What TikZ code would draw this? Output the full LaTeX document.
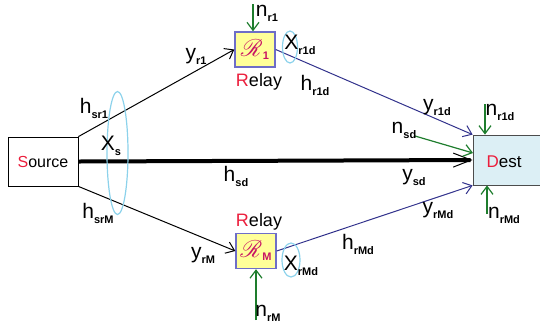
\documentclass[tikz,border=0pt]{standalone}
\usepackage{fontspec}
\setmainfont{Liberation Sans}
\usepackage{mathrsfs}
\usetikzlibrary{calc,arrows.meta}
\definecolor{relayfill}{RGB}{255,255,153}
\definecolor{relayedge}{RGB}{110,110,200}
\definecolor{destfill}{RGB}{220,239,245}
\definecolor{navy}{RGB}{50,50,140}
\definecolor{noisegreen}{RGB}{30,125,45}
\definecolor{grpblue}{RGB}{140,210,235}
\definecolor{hotred}{RGB}{235,30,60}
\definecolor{relayred}{RGB}{200,20,100}
\newcommand{\lb}[2]{#1\raisebox{-2.5pt}{\bfseries\fontsize{5.5}{6}\selectfont #2}}
\newcommand{\rly}[1]{{\color{relayred}\fontsize{12.5}{13}\selectfont$\mathscr{R}$\raisebox{-1.5pt}{\bfseries\fontsize{5.5}{6}\selectfont #1}}}

\begin{document}
\begin{tikzpicture}[x=0.5pt,y=-0.5pt,>={Straight Barb[length=4pt,width=6pt]},
box/.style={draw,rectangle,inner sep=0pt,font=\fontsize{8}{9}\selectfont},
relay/.style={box,draw=relayedge,fill=relayfill,minimum width=20pt,minimum height=17.5pt,line width=0.7pt},
lbl/.style={inner sep=0pt,font=\fontsize{10.5}{12}\selectfont},
noise/.style={->,draw=noisegreen,line width=0.6pt},
link/.style={->,line width=0.5pt},
rdlink/.style={link,draw=navy},
grp/.style={draw=grpblue,line width=0.6pt}
]
\useasboundingbox (0,0) rectangle (540,323);

% boxes
\node[box,minimum width=35pt,minimum height=24.5pt] (src) at (43,161.5) {{\color{hotred}S}ource};
\node[box,draw=black!70,fill=destfill,minimum width=36pt,minimum height=25pt] (dst) at (509,160) {};
\node[inner sep=0pt,font=\fontsize{8.5}{9}\selectfont] (dtxt) at (504,162) {{\color{hotred}D}est};
\node[relay] (r1) at (255,49.5) {\rly{1}};
\node[relay] (rm) at (256,251) {\rly{M}};
\node[inner sep=0pt,font=\fontsize{9}{10}\selectfont] (rl1) at (259,82) {{\color{hotred}R}elay};
\node[inner sep=0pt,font=\fontsize{9}{10}\selectfont] (rlm) at (259,222) {{\color{hotred}R}elay};

% links
\draw[line width=2pt,-{Straight Barb[length=9pt,width=7pt,line width=0.5pt]}] (src.east) -- (dst.west);
\draw[link] (src.north east) -- (r1.west);
\draw[link] (src.south east) -- (rm.west);
\draw[rdlink] (r1.east) -- (dst.north west);
\draw[rdlink] (rm.east) -- (dst.south west);

% noise
\coordinate (nr1s) at (253,4);
\coordinate (nrms) at (256,320);
\coordinate (nr1ds) at (485,104);
\coordinate (nrmds) at (487,214);
\coordinate (nsds) at (415,136);
\coordinate (nsde) at (473,153);
\draw[noise] (nr1s) -- (nr1s |- r1.north);
\draw[noise] (nrms) -- (nrms |- rm.south);
\draw[noise] (nr1ds) -- (nr1ds |- dst.north);
\draw[noise] (nrmds) -- (nrmds |- dst.south);
\draw[noise] (nsds) -- (nsde);

% groups
\draw[grp] (117.5,153) ellipse [x radius=5.25pt,y radius=30.75pt];
\draw[grp] (290,47) ellipse [x radius=3.75pt,y radius=8pt];
\draw[grp] (291,260) ellipse [x radius=4.5pt,y radius=8.5pt];

% labels
\node[lbl] (hsr1) at (94,108) {\lb{h}{sr1}};
\node[lbl] (xs) at (111,146) {\lb{X}{s}};
\node[lbl] (hsrm) at (98,213) {\lb{h}{srM}};
\node[lbl] (yr1) at (196,56) {\lb{y}{r1}};
\node[lbl] (yrm) at (203,255) {\lb{y}{rM}};
\node[lbl] (hsd) at (236,176) {\lb{h}{sd}};
\node[lbl] (ysd) at (414,177) {\lb{y}{sd}};
\node[lbl] (xr1d) at (300,45) {\lb{X}{r1d}};
\node[lbl] (hr1d) at (315,85) {\lb{h}{r1d}};
\node[lbl] (yr1d) at (437,107) {\lb{y}{r1d}};
\node[lbl] (nsd) at (404,130) {\lb{n}{sd}};
\node[lbl] (nr1d) at (500,112) {\lb{n}{r1d}};
\node[lbl] (yrmd) at (438,210) {\lb{y}{rMd}};
\node[lbl] (nrmd) at (504,215) {\lb{n}{rMd}};
\node[lbl] (hrmd) at (358,244) {\lb{h}{rMd}};
\node[lbl] (xrmd) at (301,266) {\lb{X}{rMd}};
\node[lbl] (nr1) at (267,13) {\lb{n}{r1}};
\node[lbl] (nrm) at (268,313) {\lb{n}{rM}};
\end{tikzpicture}
\end{document}
